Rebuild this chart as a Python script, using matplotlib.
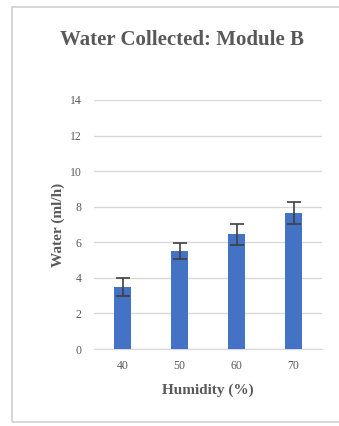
import matplotlib
matplotlib.use("Agg")
import matplotlib.pyplot as plt
from matplotlib.patches import Rectangle

# Data
humidity = ["40", "50", "60", "70"]
water = [3.5, 5.5, 6.45, 7.65]
water_err = [0.5, 0.45, 0.6, 0.6]
y_ticks = [0, 2, 4, 6, 8, 10, 12, 14]

W, H = 339, 426
fig = plt.figure(figsize=(W / 100, H / 100), dpi=100)
fig.patch.set_facecolor("white")

serif = ["Liberation Serif", "DejaVu Serif"]
text_gray = "#595959"

# Light chart frame (right side runs off the canvas)
fig.patches.append(Rectangle((12 / W, 1 - 422 / H), 400 / W, (422 - 7) / H,
                             transform=fig.transFigure, fill=False,
                             edgecolor="#d4d4d4", linewidth=1.3))

ax = fig.add_axes([94 / W, 1 - 349 / H, (322 - 94) / W, (349 - 100) / H])
x = range(len(humidity))
ax.bar(x, water, width=0.3, color="#4472C4", zorder=3,
       yerr=water_err, ecolor="#404040",
       error_kw=dict(elinewidth=1.2, capsize=5, capthick=1.2, zorder=4))

ax.set_xlim(-0.5, len(humidity) - 0.5)
ax.set_ylim(0, 14)
ax.set_yticks(y_ticks)
ax.set_xticks(list(x))
ax.set_xticklabels(humidity)
ax.grid(axis="y", color="#d9d9d9", linewidth=1, zorder=0)
for s in ["top", "right", "left"]:
    ax.spines[s].set_visible(False)
ax.spines["bottom"].set_color("#d9d9d9")
ax.tick_params(axis="both", length=0, labelsize=8.5, labelcolor=text_gray)
ax.tick_params(axis="y", pad=9)
ax.tick_params(axis="x", pad=8)
for lbl in ax.get_xticklabels() + ax.get_yticklabels():
    lbl.set_family(serif)

ax.set_ylabel("Water (ml/h)", family=serif, fontsize=11, fontweight="bold",
              color=text_gray, labelpad=3)
ax.set_xlabel("Humidity (%)", family=serif, fontsize=11, fontweight="bold",
              color=text_gray, labelpad=8)

fig.text(182 / W, 1 - 40 / H, "Water Collected: Module B", family=serif,
         fontsize=15, fontweight="bold", color=text_gray,
         ha="center", va="center")

fig.savefig("out.png", dpi=100)
